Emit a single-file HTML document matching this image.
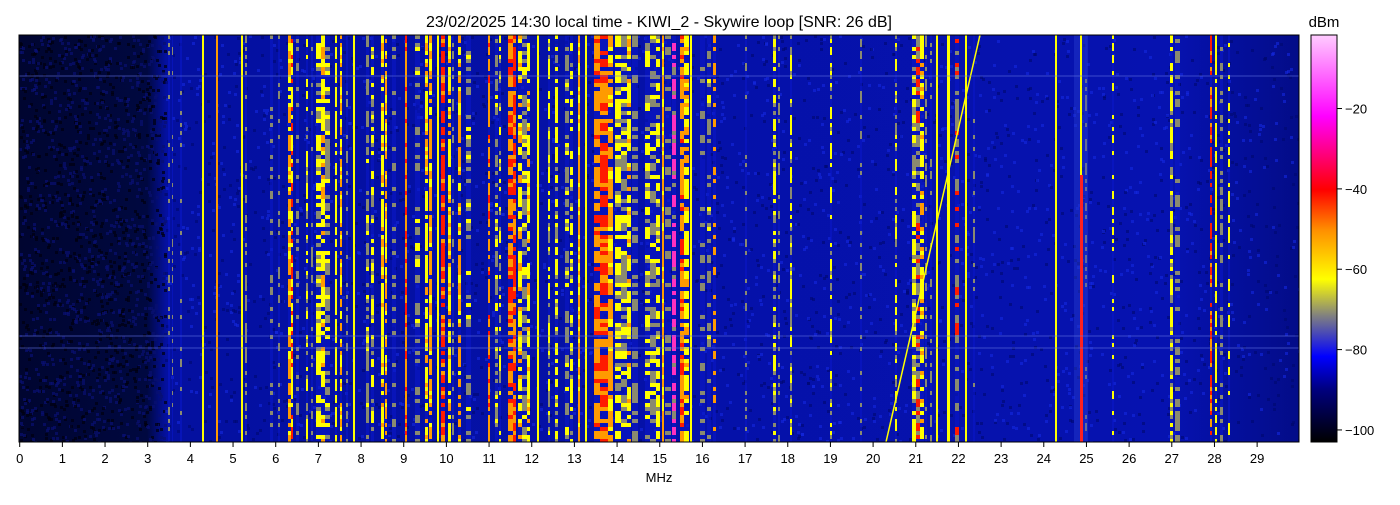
<!DOCTYPE html>
<html><head><meta charset="utf-8"><style>
html,body{margin:0;padding:0;background:#fff;}
svg text{font-family:"Liberation Sans","DejaVu Sans",sans-serif;fill:#000;}
</style></head><body>
<svg id="s" width="1400" height="500" xmlns="http://www.w3.org/2000/svg">
<defs>
<linearGradient id="bg" x1="0" x2="1" y1="0" y2="0">
<stop offset="0" stop-color="#000530"/>
<stop offset="0.1" stop-color="#000840"/>
<stop offset="0.115" stop-color="#0410a0"/>
<stop offset="0.9" stop-color="#0612b0"/>
<stop offset="1" stop-color="#030c88"/>
</linearGradient>
<linearGradient id="cb" x1="0" x2="0" y1="1" y2="0">
<stop offset="0" stop-color="#000000"/>
<stop offset="0.13" stop-color="#000080"/>
<stop offset="0.21" stop-color="#0000ff"/>
<stop offset="0.31" stop-color="#808080"/>
<stop offset="0.40" stop-color="#ffff00"/>
<stop offset="0.52" stop-color="#ff9000"/>
<stop offset="0.62" stop-color="#ff0000"/>
<stop offset="0.80" stop-color="#ff00ff"/>
<stop offset="1" stop-color="#ffccff"/>
</linearGradient>
<clipPath id="pc"><rect x="19" y="35" width="1280" height="407"/></clipPath>
</defs>
<text x="659" y="27" font-size="16" text-anchor="middle">23/02/2025 14:30 local time - KIWI_2 - Skywire loop [SNR: 26 dB]</text>
<rect x="19" y="35" width="1280" height="407" fill="url(#bg)"/>
<g id="st" clip-path="url(#pc)"></g>
<rect x="19" y="35" width="1280" height="407" fill="none" stroke="#000" stroke-width="1"/>
<g id="ax"></g>
<text x="659" y="482" font-size="13" text-anchor="middle">MHz</text>
<rect x="1311" y="35" width="26" height="407" fill="url(#cb)" stroke="#000" stroke-width="1"/>
<text x="1324" y="27" font-size="15" text-anchor="middle">dBm</text>
<g id="cbt"></g>
</svg>
<script>
var NS="http://www.w3.org/2000/svg";
function el(p,t,a,txt){var e=document.createElementNS(NS,t);for(var k in a)e.setAttribute(k,a[k]);if(txt!==undefined)e.textContent=txt;p.appendChild(e);return e;}
var ax=document.getElementById('ax');
for(var f=0;f<30;f++){var x=19.7+42.67*f;el(ax,'line',{x1:x,x2:x,y1:442,y2:447,stroke:'#000','stroke-width':1});el(ax,'text',{x:x,y:463,'font-size':13,'text-anchor':'middle'},String(f));}
var cbt=document.getElementById('cbt');
[-20,-40,-60,-80,-100].forEach(function(d){var y=35+(-1.7-d)/101.3*407;el(cbt,'line',{x1:1337,x2:1342,y1:y,y2:y,stroke:'#000'});el(cbt,'text',{x:1345,y:y+5,'font-size':13},'\u2212'+(-d));});
var seed=7;function r(){seed=(seed*16807)%2147483647;return seed/2147483647;}
var st=document.getElementById('st');
// left noise texture (subtle)
for(var i=0;i<1800;i++){var x=19+Math.floor(r()*146),y=35+Math.floor(r()*407);el(st,'rect',{x:x,y:y,width:3,height:3,fill:r()<0.5?'#000010':'#081070',opacity:0.7});}
// broad background noise in blue region
for(var i=0;i<3000;i++){var x=165+Math.floor(r()*1134),y=35+Math.floor(r()*407);el(st,'rect',{x:x,y:y,width:3,height:3,fill:r()<0.5?'#000870':'#1428e0',opacity:0.6});}
var C={y:'#ffff00',o:'#ff9a00',r:'#ff1a00',g:'#8a8a70',m:'#ff30c0',b:'#0a18c8',k:'#000050',l:'#4a58e0'};
var S=[
[168,2,'g','b',0.4],[172,1,'g','b',0.4],[180,2,'g','b',0.4],
[202,2,'y','y',1],[216,2,'o','o',1],[241,2,'y','y',1],[245,2,'g','b',0.6],
[270,3,'g','b',0.4],[278,2,'g','b',0.5],[288,3,'o','y',0.95],[291,2,'y','r',0.9],[296,3,'g','b',0.5],
[306,2,'y','g',0.6],[311,2,'g','b',0.5],[316,5,'y','g',0.8],[321,4,'y','o',0.8],[325,5,'g','y',0.7],
[335,2,'y','y',0.9],[340,2,'o','y',0.9],[346,2,'g','b',0.5],[353,2,'y','y',1],[366,3,'g','y',0.6],[371,3,'y','g',0.6],
[381,3,'y','o',0.9],[385,2,'o','y',0.9],[392,4,'g','b',0.5],[405,2,'o','r',1],[415,5,'g','y',0.5],
[425,3,'y','o',0.9],[429,3,'o','y',0.9],[437,2,'y','y',1],[441,4,'r','o',0.95],[448,3,'y','o',0.9],
[452,2,'g','b',0.5],[458,3,'o','y',0.9],[466,5,'g','y',0.5],[488,2,'o','r',0.95],[495,3,'g','y',0.6],[499,2,'y','g',0.6],
[508,5,'o','r',0.95],[513,3,'r','o',0.95],[518,4,'y','o',0.8],[522,5,'g','y',0.7],[527,3,'y','o',0.8],
[537,2,'y','y',1],[548,2,'y','g',0.9],[555,3,'y','g',0.8],[565,4,'g','y',0.6],[570,3,'y','g',0.6],[578,2,'o','y',1],[585,2,'y','y',1],
[594,6,'o','r',0.95],[600,8,'r','o',0.95],[608,5,'o','y',0.95],[615,6,'y','g',0.8],[621,6,'g','y',0.7],[627,4,'y','o',0.8],[632,6,'g','b',0.5],
[645,5,'y','g',0.6],[650,6,'g','y',0.6],[656,4,'y','g',0.6],[662,2,'o','y',1],[665,6,'g','b',0.5],[672,4,'m','g',0.9],
[680,4,'o','r',0.95],[684,5,'y','o',0.9],[690,2,'y','y',1],[700,5,'g','b',0.5],[707,4,'g','y',0.4],[713,3,'o','b',0.5],
[745,2,'g','b',0.4],[773,3,'y','g',0.7],[778,2,'g','b',0.6],[790,2,'y','g',0.8],[830,2,'y','g',0.6],[860,2,'g','b',0.4],[895,2,'y','g',0.7],
[912,4,'y','g',0.8],[916,4,'g','r',0.8],[920,4,'y','o',0.8],[925,2,'g','b',0.6],[930,2,'g','b',0.5],[936,2,'y','y',1],
[947,3,'y','y',1],[955,4,'g','r',0.6],[965,2,'y','y',1],[973,2,'g','b',0.4],[1055,2,'y','y',1],[1085,2,'g','b',0.5],[1112,2,'y','b',0.55],
[1170,3,'y','g',0.8],[1175,5,'g','b',0.6],[1210,2,'r','o',0.9],[1215,2,'y','y',0.9],[1220,3,'g','b',0.5],[1228,2,'y','b',0.6]
];
S.forEach(function(s){
 var pr=s[4]>=0.99?s[4]:s[4]*0.85;
 for(var y=35;y<442;y+=4){var p=r();var c=p<pr*0.7?C[s[2]]:(p<pr?C[s[3]]:C.b);
  el(st,'rect',{x:s[0],y:y,width:s[1],height:4,fill:c,opacity:c==C.b?0.6:1});}
});
el(st,'rect',{x:1074,y:35,width:14,height:407,fill:'#2a40d0',opacity:0.4});
el(st,'rect',{x:1080,y:35,width:2,height:140,fill:C.y});
el(st,'rect',{x:1080,y:175,width:3,height:267,fill:'#ff2020'});
el(st,'line',{x1:886,y1:442,x2:980,y2:35,stroke:'#ffff00','stroke-width':1.5});
[75,335,347].forEach(function(y){el(st,'rect',{x:19,y:y,width:1280,height:2,fill:'#6070e0',opacity:0.3});});
</script>
</body></html>
